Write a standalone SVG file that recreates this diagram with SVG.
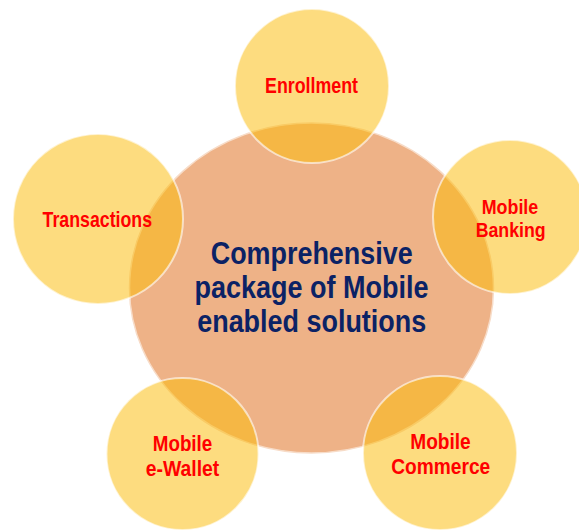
<svg xmlns="http://www.w3.org/2000/svg" width="579" height="532" viewBox="0 0 579 532">
<style>
.sat{fill:#FBBC09;fill-opacity:0.52;stroke:#FFFFFF;stroke-opacity:0.6;stroke-width:2}
.hub{fill:#EEB287;stroke:#F7DCC8;stroke-width:1.5}
.lbl{font-family:"Liberation Sans",Arial,sans-serif;font-weight:bold;font-size:22px;fill:#FF0000;text-anchor:middle}
.sm{font-size:20px}
.ctr{font-family:"Liberation Sans",Arial,sans-serif;font-weight:bold;font-size:31px;fill:#0B2265;text-anchor:middle}
</style>
<rect width="579" height="532" fill="#FFFFFF"/>
<g id="hub">
<ellipse class="hub" cx="311.5" cy="288" rx="182" ry="165"/>
<text class="ctr" x="311.7" y="264" textLength="202" lengthAdjust="spacingAndGlyphs">Comprehensive</text>
<text class="ctr" x="311.5" y="298" textLength="234" lengthAdjust="spacingAndGlyphs">package of Mobile</text>
<text class="ctr" x="311.7" y="332" textLength="229" lengthAdjust="spacingAndGlyphs">enabled solutions</text>
</g>
<g id="enrollment">
<circle class="sat" cx="312" cy="86" r="77"/>
<text class="lbl" x="311.5" y="93" textLength="93" lengthAdjust="spacingAndGlyphs">Enrollment</text>
</g>
<g id="transactions">
<circle class="sat" cx="98" cy="219" r="85"/>
<text class="lbl" x="97.3" y="226.5" textLength="109.5" lengthAdjust="spacingAndGlyphs">Transactions</text>
</g>
<g id="mobile-banking">
<circle class="sat" cx="510" cy="217" r="77"/>
<text class="lbl sm" x="510" y="213.5" textLength="56.5" lengthAdjust="spacingAndGlyphs">Mobile</text>
<text class="lbl sm" x="510.7" y="236.5" textLength="70" lengthAdjust="spacingAndGlyphs">Banking</text>
</g>
<g id="mobile-commerce">
<circle class="sat" cx="440" cy="453" r="77"/>
<text class="lbl" x="440.5" y="449.3" textLength="60.5" lengthAdjust="spacingAndGlyphs">Mobile</text>
<text class="lbl" x="440.7" y="474" textLength="99" lengthAdjust="spacingAndGlyphs">Commerce</text>
</g>
<g id="mobile-ewallet">
<circle class="sat" cx="182.5" cy="454" r="76"/>
<text class="lbl" x="182.5" y="450.5" textLength="59.5" lengthAdjust="spacingAndGlyphs">Mobile</text>
<text class="lbl" x="182.5" y="475.5" textLength="73.5" lengthAdjust="spacingAndGlyphs">e-Wallet</text>
</g>
</svg>
